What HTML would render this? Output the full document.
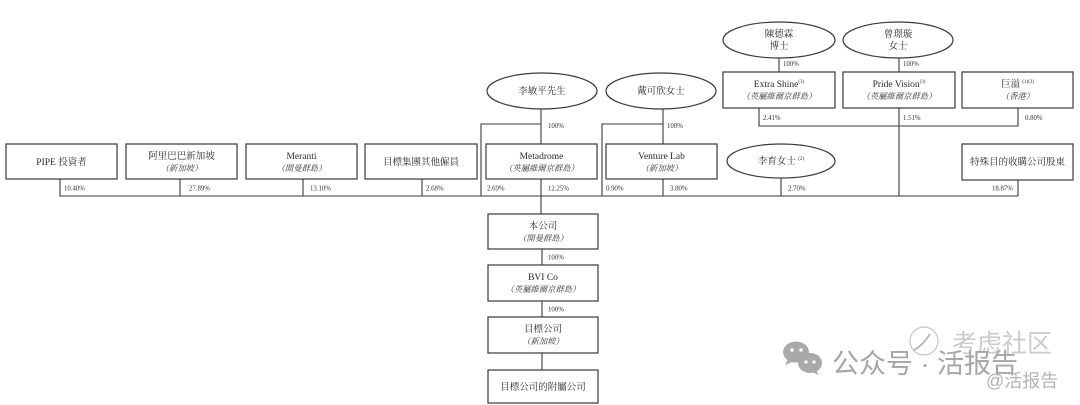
<!DOCTYPE html>
<html><head><meta charset="utf-8"><style>
html,body{margin:0;padding:0;background:#fff;width:1080px;height:405px;overflow:hidden}
svg{display:block}
.b{fill:#fff;stroke:#3a3a3a;stroke-width:1.2}
.l{stroke:#3a3a3a;stroke-width:1.1;fill:none}
.t{font-family:"Liberation Serif","Noto Serif CJK SC",serif;font-size:9.5px;fill:#2a2a2a;text-anchor:middle}
.i{font-family:"Liberation Serif","Noto Serif CJK SC",serif;font-size:8.3px;fill:#333;font-style:italic;text-anchor:middle}
.p{font-family:"Liberation Serif",serif;font-size:6.8px;fill:#333}
.s{font-size:5px}
.w{font-family:"Liberation Sans","Noto Sans CJK SC",sans-serif;fill:#a6a6a6}
</style></head><body>
<svg width="1080" height="405" viewBox="0 0 1080 405" xmlns="http://www.w3.org/2000/svg">
<!-- lines -->
<g class="l">
<path d="M60 179V196H1018"/>
<path d="M180 179V196M303 179V196M422 179V196"/>
<path d="M481 196V124H541M541 109V144M541 179V214"/>
<path d="M602 196V124H663M663 109V144M663 179V196"/>
<path d="M781 178V196"/>
<path d="M779 58V72M899 58V72M899 108V196"/>
<path d="M759 108V126H1018V108"/>
<path d="M1018 180V196"/>
<path d="M542 249V265M542 301V317M542 353V370"/>
</g>
<!-- boxes -->
<rect class="b" x="6" y="144" width="111" height="35"/>
<rect class="b" x="126" y="144" width="111" height="35"/>
<rect class="b" x="246" y="144" width="111" height="35"/>
<rect class="b" x="365" y="144" width="112" height="35"/>
<rect class="b" x="486" y="144" width="111" height="35"/>
<rect class="b" x="606" y="144" width="111" height="35"/>
<rect class="b" x="962" y="144" width="111" height="36"/>
<rect class="b" x="723" y="72" width="112" height="36"/>
<rect class="b" x="843" y="72" width="112" height="36"/>
<rect class="b" x="962" y="72" width="111" height="36"/>
<rect class="b" x="488" y="214" width="110" height="35"/>
<rect class="b" x="488" y="265" width="110" height="36"/>
<rect class="b" x="488" y="317" width="110" height="36"/>
<rect class="b" x="488" y="370" width="110" height="33"/>
<!-- ellipses -->
<ellipse class="b" cx="779" cy="40" rx="56" ry="18"/>
<ellipse class="b" cx="898" cy="40" rx="55" ry="18"/>
<ellipse class="b" cx="542" cy="91" rx="55" ry="18"/>
<ellipse class="b" cx="661" cy="91" rx="55" ry="18"/>
<ellipse class="b" cx="781" cy="161" rx="54" ry="17"/>
<!-- box text -->
<text class="t" x="61.5" y="165">PIPE 投資者</text>
<text class="t" x="181.5" y="159">阿里巴巴新加坡</text><text class="i" x="181.5" y="171">（新加坡）</text>
<text class="t" x="301.5" y="159">Meranti</text><text class="i" x="301.5" y="171">（開曼群島）</text>
<text class="t" x="421" y="165">目標集團其他僱員</text>
<text class="t" x="541.5" y="159">Metadrome</text><text class="i" x="541.5" y="171">（英屬維爾京群島）</text>
<text class="t" x="661.5" y="159">Venture Lab</text><text class="i" x="661.5" y="171">（新加坡）</text>
<text class="t" x="1017.5" y="165">特殊目的收購公司股東</text>
<text class="t" x="779" y="87">Extra Shine<tspan class="s" dy="-4">(3)</tspan></text><text class="i" x="779" y="99">（英屬維爾京群島）</text>
<text class="t" x="899" y="87">Pride Vision<tspan class="s" dy="-4">(3)</tspan></text><text class="i" x="899" y="99">（英屬維爾京群島）</text>
<text class="t" x="1017.5" y="87">巨溢 <tspan class="s" dy="-4">(1)(3)</tspan></text><text class="i" x="1017.5" y="99">（香港）</text>
<text class="t" x="543" y="229">本公司</text><text class="i" x="543" y="241">（開曼群島）</text>
<text class="t" x="543" y="280">BVI Co</text><text class="i" x="543" y="292">（英屬維爾京群島）</text>
<text class="t" x="543" y="332">目標公司</text><text class="i" x="543" y="344">（新加坡）</text>
<text class="t" x="543" y="390">目標公司的附屬公司</text>
<!-- ellipse text -->
<text class="t" x="779" y="37">陳德霖</text><text class="t" x="779" y="49">博士</text>
<text class="t" x="898" y="37">曾璟璇</text><text class="t" x="898" y="49">女士</text>
<text class="t" x="542" y="94">李敏平先生</text>
<text class="t" x="661" y="94">戴可欣女士</text>
<text class="t" x="781" y="164">李育女士 <tspan class="s" dy="-4">(2)</tspan></text>
<!-- percentages -->
<text class="p" x="64" y="190.5">10.40%</text>
<text class="p" x="189" y="190.5">27.89%</text>
<text class="p" x="310" y="190.5">13.10%</text>
<text class="p" x="426" y="190.5">2.68%</text>
<text class="p" x="487" y="190.5">2.69%</text>
<text class="p" x="548" y="190.5">12.25%</text>
<text class="p" x="606" y="190.5">0.90%</text>
<text class="p" x="670" y="190.5">3.80%</text>
<text class="p" x="788" y="190.5">2.70%</text>
<text class="p" x="992" y="190.5">18.87%</text>
<text class="p" x="548" y="128">100%</text>
<text class="p" x="667" y="128">100%</text>
<text class="p" x="783" y="66">100%</text>
<text class="p" x="903" y="66">100%</text>
<text class="p" x="763" y="120">2.41%</text>
<text class="p" x="903" y="120">1.51%</text>
<text class="p" x="1025" y="120">0.80%</text>
<text class="p" x="548" y="259.5">100%</text>
<text class="p" x="548" y="311.5">100%</text>
<!-- watermark -->
<g fill="#a9a9a9">
<ellipse cx="796" cy="352" rx="13" ry="10.5"/>
<path d="M788 359l-3 6 7-3z"/>
<ellipse cx="810" cy="363" rx="12" ry="10"/>
<path d="M816 370l3 5-7-3z"/>
</g>
<g fill="#fff">
<circle cx="792" cy="350" r="1.8"/><circle cx="801" cy="350" r="1.8"/>
<circle cx="806" cy="362" r="1.6"/><circle cx="814" cy="362" r="1.6"/>
</g>
<circle cx="924" cy="341" r="14" fill="none" stroke="#c4c4c4" stroke-width="1.2"/>
<path d="M914 350q8-4 16-16" fill="none" stroke="#b8b8b8" stroke-width="2"/>
<text class="w" x="952" y="352" font-size="25" fill="#cbcbcb" style="fill:#cbcbcb">考虑社区</text>
<text class="w" x="832" y="373" font-size="27">公众号 · 活报告</text>
<text class="w" x="986" y="387" font-size="18" style="fill:#b4b4b4">@活报告</text>
</svg>
</body></html>
